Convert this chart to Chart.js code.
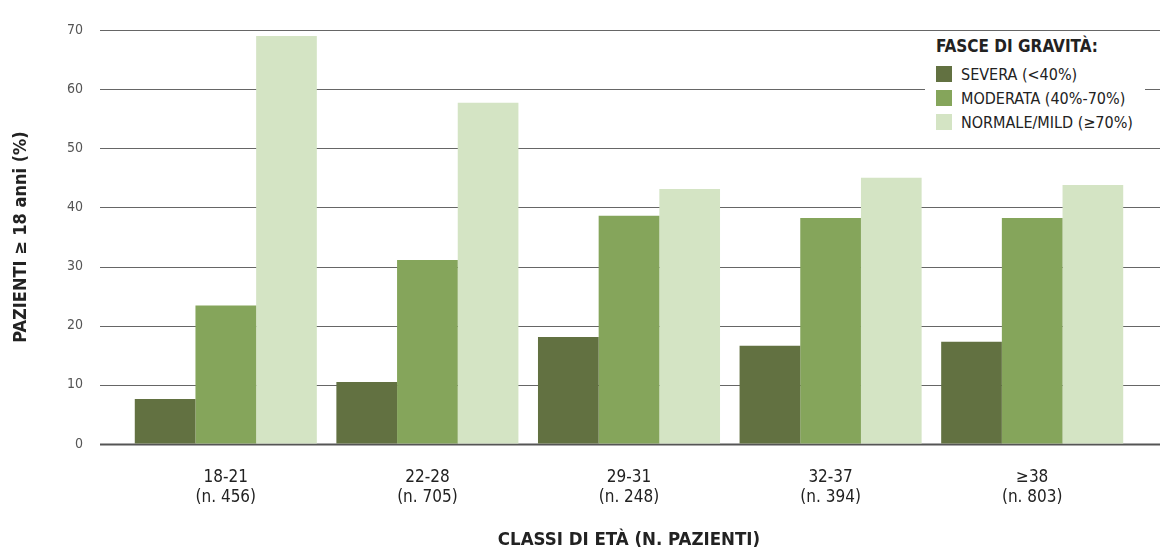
<!DOCTYPE html>
<html>
<head>
<meta charset="utf-8">
<script src="https://cdn.jsdelivr.net/npm/chart.js@4/dist/chart.umd.min.js"></script>
<style>
  html, body { margin: 0; padding: 0; background: #fff; }
  #wrap { position: relative; width: 1160px; height: 547px; }
  #legenda {
    position: absolute; left: 925px; top: 31px; width: 220px; height: 115px;
    background: #fff; font-family: 'Liberation Sans Narrow', 'DejaVu Sans Condensed', sans-serif;
    color: #222; box-sizing: border-box; padding: 5px 0 0 11px;
  }
  #legenda .titolo { font-weight: bold; font-size: 17px; margin-bottom: 6px; }
  #legenda .voce { display: flex; align-items: center; height: 24px; font-size: 16px; }
  #legenda .box { width: 16px; height: 16px; margin-right: 9px; }
</style>
</head>
<body>
<div id="wrap">
  <canvas id="grafico" width="1160" height="547"></canvas>
  <div id="legenda"></div>
</div>
<script>
// Dati
const classi = [['18-21', '(n. 456)'], ['22-28', '(n. 705)'], ['29-31', '(n. 248)'], ['32-37', '(n. 394)'], ['\u226538', '(n. 803)']];
const severa = [7.6, 10.5, 18.1, 16.6, 17.3];
const moderata = [23.4, 31.1, 38.6, 38.2, 38.2];
const normale = [69.0, 57.7, 43.1, 45.0, 43.8];
const nomiSerie = ['SEVERA (<40%)', 'MODERATA (40%-70%)', 'NORMALE/MILD (\u226570%)'];
const colori = ['#627141', '#85a55b', '#d4e4c4'];
const tickY = [0, 10, 20, 30, 40, 50, 60, 70];

const FONT = "'Liberation Sans Narrow', 'DejaVu Sans Condensed', sans-serif";

// Legenda in HTML
const leg = document.getElementById('legenda');
leg.innerHTML = '<div class="titolo">FASCE DI GRAVIT\u00c0:</div>' +
  nomiSerie.map((n, i) =>
    `<div class="voce"><span class="box" style="background:${colori[i]}"></span>${n.replace('<', '&lt;')}</div>`
  ).join('');

// Linee di griglia che escono dall'area del grafico
const grigliaLarga = {
  id: 'grigliaLarga',
  beforeDatasetsDraw(chart) {
    const { ctx, chartArea, scales } = chart;
    ctx.save();
    tickY.forEach(v => {
      const y = Math.round(scales.y.getPixelForValue(v)) + 0.5;
      ctx.strokeStyle = v === 0 ? '#555' : '#666';
      ctx.lineWidth = v === 0 ? 2 : 1;
      ctx.beginPath();
      ctx.moveTo(chartArea.left - 25, y);
      ctx.lineTo(chart.width, y);
      ctx.stroke();
    });
    ctx.restore();
  }
};

new Chart(document.getElementById('grafico'), {
  type: 'bar',
  data: {
    labels: classi,
    datasets: [
      { label: nomiSerie[0], data: severa, backgroundColor: colori[0] },
      { label: nomiSerie[1], data: moderata, backgroundColor: colori[1] },
      { label: nomiSerie[2], data: normale, backgroundColor: colori[2] }
    ]
  },
  options: {
    responsive: false,
    animation: false,
    layout: { padding: { top: 30, right: 27, bottom: 0, left: 0 } },
    datasets: {
      bar: { categoryPercentage: 0.903, barPercentage: 1.0 }
    },
    plugins: {
      legend: { display: false },
      tooltip: { enabled: false }
    },
    scales: {
      x: {
        grid: { display: false },
        border: { display: false },
        ticks: {
          color: '#222',
          padding: 15,
          maxRotation: 0,
          font: { family: FONT, size: 17 }
        },
        title: {
          display: true,
          text: 'CLASSI DI ET\u00c0 (N. PAZIENTI)',
          color: '#222',
          font: { family: FONT, size: 18.5, weight: 'bold' },
          padding: { top: 0, bottom: -4 }
        },
        afterFit: s => { s.height = 103; }
      },
      y: {
        min: 0,
        max: 70,
        grid: {
          drawOnChartArea: false,
          drawTicks: true,
          tickLength: 35,
          color: 'rgba(0,0,0,0)'
        },
        border: { display: false },
        afterBuildTicks: s => { s.ticks = tickY.map(v => ({ value: v })); },
        ticks: {
          color: '#555',
          padding: 7,
          font: { family: FONT, size: 14 }
        },
        title: {
          display: true,
          text: 'PAZIENTI \u2265 18 anni (%)',
          color: '#222',
          font: { family: FONT, size: 18, weight: 'bold' },
          padding: { top: 11, bottom: 0 }
        },
        afterFit: s => { s.width = 125; }
      }
    }
  },
  plugins: [grigliaLarga]
});
</script>
</body>
</html>
